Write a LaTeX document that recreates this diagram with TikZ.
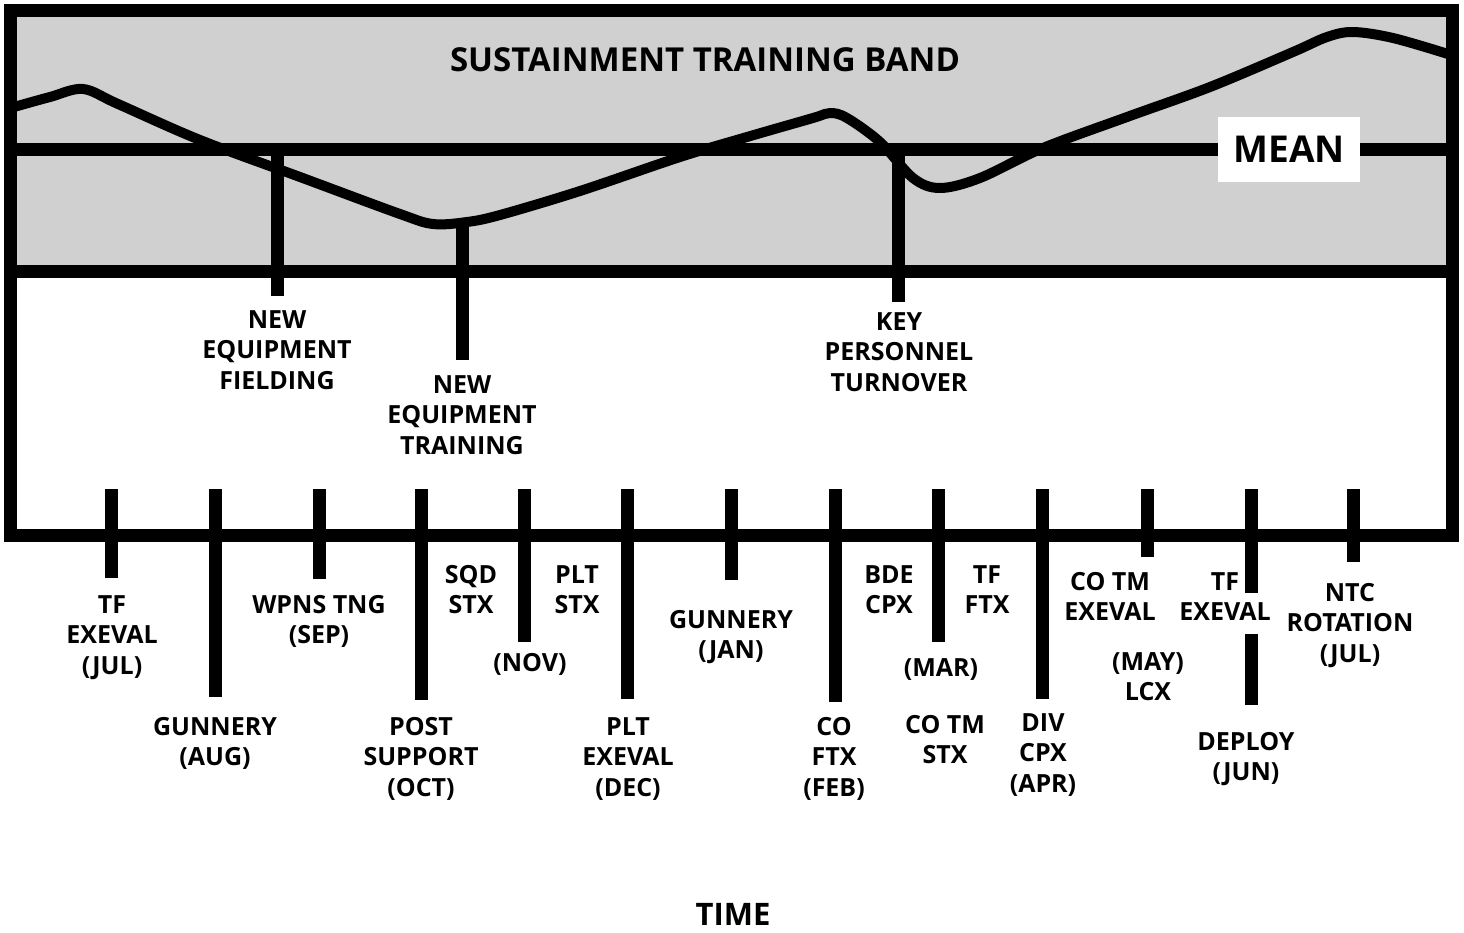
\documentclass[tikz,border=0pt]{standalone}
\usepackage{fontspec}
\setmainfont{Open Sans}
\definecolor{bandgray}{RGB}{208,208,208}
\begin{document}
\begin{tikzpicture}[x=1pt,y=-1pt,
  lbl/.style={font=\fontsize{25}{30.5}\selectfont\bfseries, align=center, inner sep=0pt, anchor=north},
  bar/.style={line width=13pt, line cap=butt},
  frameline/.style={line width=13pt, line cap=butt},
  trend/.style={line width=10pt, line join=round, line cap=butt}]
\useasboundingbox (0,0) rectangle (1464,932);

% training band and its guide lines
\fill[bandgray] (10,10) rectangle (1452,271);
\draw[frameline] (10,149) -- (1452,149);
\draw[frameline] (10,271) -- (1452,271);

% proficiency trend through the band
\draw[trend] plot[smooth, tension=0.55] coordinates {
  (14,107) (50,97) (83,89) (118,104) (200,140) (300,177) (400,214)
  (433,224) (467,222) (500,215) (580,191) (680,157) (747,137) (813,118)
  (830,113) (847,118) (880,142) (913,178) (940,188) (980,178) (1043,148)
  (1127,117) (1210,87) (1293,52) (1327,37) (1353,32) (1393,38) (1448,54)};

% events dropping out of the band
\coordinate (fieldTop) at (277,149);
\coordinate (fieldBot) at (277,296);
\coordinate (trainTop) at (462,220);
\coordinate (trainBot) at (462,360);
\coordinate (keyTop)   at (898,149);
\coordinate (keyBot)   at (898,302);
\draw[bar] (fieldTop) -- (fieldBot);
\draw[bar] (trainTop) -- (trainBot);
\draw[bar] (keyTop) -- (keyBot);

% outer frame with the time axis as its lower edge
\draw[frameline, line join=miter] (10,10) rectangle (1452,535);

\node[inner sep=0pt, fill=white, minimum width=142pt, minimum height=65pt,
      font=\fontsize{37}{40}\selectfont\bfseries] (mean) at (1289,149.5) {MEAN};
\node[inner sep=0pt, anchor=north, font=\fontsize{33}{36}\selectfont\bfseries] (band) at (705,47) {SUSTAINMENT TRAINING BAND};

\node[lbl] (nef) at (277,310) {NEW\\EQUIPMENT\\FIELDING};
\node[lbl] (net) at (462,375) {NEW\\EQUIPMENT\\TRAINING};
\node[lbl] (kpt) at (899,312) {KEY\\PERSONNEL\\TURNOVER};

% monthly ticks on the time axis
\foreach \x/\b [count=\i] in {111/578, 215/697, 319/579, 421/700, 524/642, 627/699,
    731/580, 835/702, 938/642, 1042/699, 1147/557, 1251/593, 1353/562} {
  \coordinate (t\i a) at (\x,489);
  \coordinate (t\i b) at (\x,\b);
  \draw[bar] (t\i a) -- (t\i b);
}
\coordinate (jun2a) at (1251,634);
\coordinate (jun2b) at (1251,705);
\draw[bar] (jun2a) -- (jun2b);

% event labels
\node[lbl] (tfjul)   at (112,595)  {TF\\EXEVAL\\(JUL)};
\node[lbl] (gunaug)  at (215,717)  {GUNNERY\\(AUG)};
\node[lbl] (wpns)    at (319,595)  {WPNS TNG\\(SEP)};
\node[lbl] (post)    at (421,717)  {POST\\SUPPORT\\(OCT)};
\node[lbl] (sqd)     at (471,565)  {SQD\\STX};
\node[lbl] (pltstx)  at (577,565)  {PLT\\STX};
\node[lbl] (nov)     at (530,653)  {(NOV)};
\node[lbl] (pltexe)  at (628,717)  {PLT\\EXEVAL\\(DEC)};
\node[lbl] (gunjan)  at (731,610)  {GUNNERY\\(JAN)};
\node[lbl] (cofeb)   at (834,717)  {CO\\FTX\\(FEB)};
\node[lbl] (bde)     at (889,565)  {BDE\\CPX};
\node[lbl] (tfftx)   at (987,565)  {TF\\FTX};
\node[lbl] (mar)     at (941,658)  {(MAR)};
\node[lbl] (cotmstx) at (945,715)  {CO TM\\STX};
\node[lbl] (div)     at (1043,713) {DIV\\CPX\\(APR)};
\node[lbl] (cotmexe) at (1110,572) {CO TM\\EXEVAL};
\node[lbl] (may)     at (1148,652) {(MAY)\\LCX};
\node[lbl] (tfexe)   at (1225,572) {TF\\EXEVAL};
\node[lbl] (ntc)     at (1350,583) {NTC\\ROTATION\\(JUL)};
\node[lbl] (deploy)  at (1246,732) {DEPLOY\\(JUN)};

\node[inner sep=0pt, anchor=north, font=\fontsize{31}{34}\selectfont\bfseries] (time) at (733,903) {TIME};
\end{tikzpicture}
\end{document}
